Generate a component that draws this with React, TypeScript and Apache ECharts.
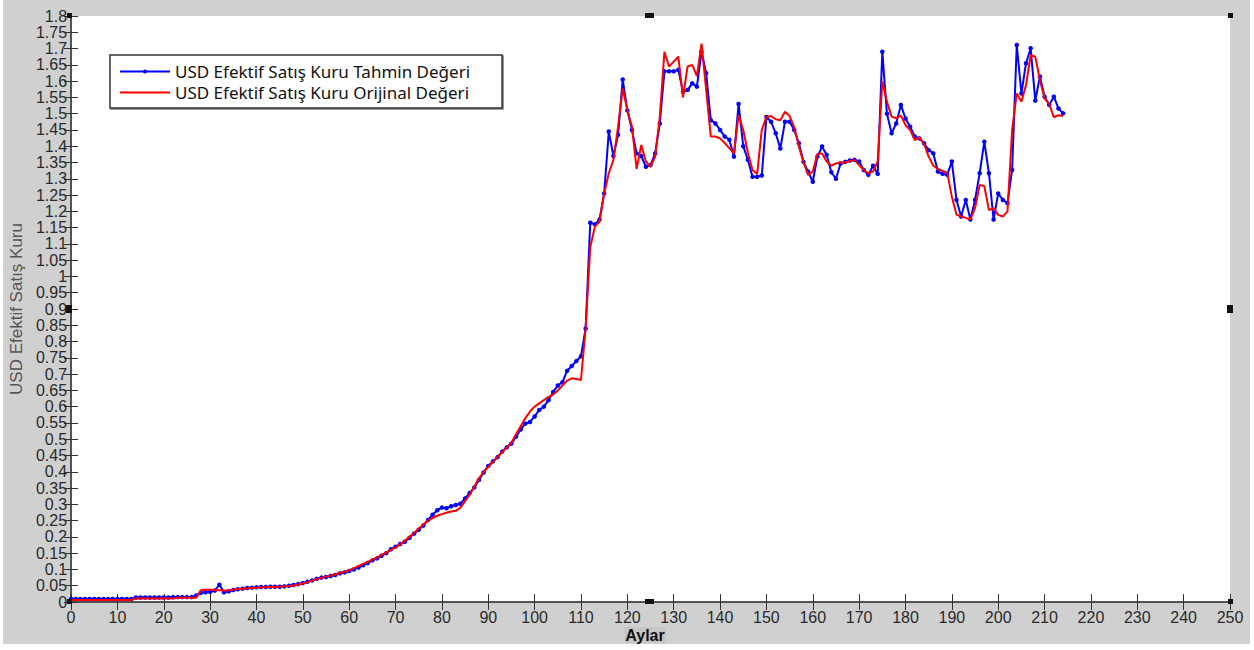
import React, { useEffect, useRef } from "react";
import * as echarts from "echarts";

// Months 0..214
const tahmin: number[] = [
  // 0-13
  0.009, 0.009, 0.009, 0.009, 0.009, 0.009, 0.009, 0.009, 0.009, 0.009, 0.009, 0.009, 0.009, 0.009,
  // 14-27
  0.014, 0.014, 0.014, 0.014, 0.014, 0.014, 0.014, 0.014, 0.015, 0.015, 0.015, 0.015, 0.015, 0.02,
  // 28-47
  0.028, 0.03, 0.031, 0.035, 0.053, 0.03, 0.033, 0.037, 0.039, 0.041, 0.043, 0.044, 0.045, 0.046, 0.046, 0.047, 0.047, 0.047, 0.048, 0.05,
  // 48-67
  0.052, 0.055, 0.058, 0.062, 0.066, 0.071, 0.075, 0.077, 0.08, 0.083, 0.088, 0.091, 0.095, 0.1, 0.106, 0.113, 0.12, 0.128, 0.134, 0.142,
  // 68-87
  0.15, 0.162, 0.17, 0.178, 0.185, 0.197, 0.21, 0.222, 0.235, 0.252, 0.268, 0.282, 0.29, 0.288, 0.294, 0.298, 0.302, 0.318, 0.335, 0.352,
  // 88-110
  0.375, 0.398, 0.418, 0.432, 0.445, 0.462, 0.475, 0.487, 0.508, 0.53, 0.548, 0.553, 0.57, 0.59, 0.6, 0.62, 0.645, 0.665, 0.675, 0.71, 0.725, 0.74, 0.755,
  // 111-130
  0.84, 1.165, 1.16, 1.175, 1.255, 1.445, 1.37, 1.435, 1.605, 1.51, 1.45, 1.378, 1.37, 1.337, 1.342, 1.378, 1.47, 1.63, 1.63, 1.63,
  // 131-150
  1.635, 1.567, 1.573, 1.593, 1.583, 1.69, 1.624, 1.48, 1.47, 1.45, 1.43, 1.42, 1.368, 1.53, 1.4, 1.358, 1.306, 1.306, 1.31, 1.49,
  // 151-170
  1.475, 1.44, 1.393, 1.475, 1.475, 1.45, 1.409, 1.352, 1.322, 1.291, 1.368, 1.399, 1.373, 1.32, 1.3, 1.347, 1.352, 1.356, 1.358, 1.353,
  // 171-190
  1.327, 1.312, 1.34, 1.315, 1.69, 1.5, 1.44, 1.47, 1.527, 1.485, 1.46, 1.43, 1.424, 1.409, 1.388, 1.378, 1.322, 1.315, 1.312, 1.353,
  // 191-214
  1.235, 1.184, 1.235, 1.175, 1.235, 1.317, 1.414, 1.317, 1.175, 1.255, 1.235, 1.225, 1.327, 1.711, 1.562, 1.655, 1.701, 1.54, 1.614, 1.552, 1.527, 1.552, 1.516, 1.501,
];

const orijinal: number[] = [
  // 0-13
  0.006, 0.006, 0.006, 0.006, 0.006, 0.006, 0.006, 0.006, 0.006, 0.006, 0.006, 0.006, 0.006, 0.006,
  // 14-27
  0.011, 0.011, 0.011, 0.011, 0.011, 0.011, 0.011, 0.011, 0.011, 0.013, 0.013, 0.013, 0.013, 0.013,
  // 28-47
  0.036, 0.038, 0.038, 0.037, 0.036, 0.035, 0.036, 0.038, 0.04, 0.041, 0.042, 0.043, 0.044, 0.045, 0.045, 0.046, 0.046, 0.047, 0.048, 0.049,
  // 48-67
  0.051, 0.054, 0.057, 0.061, 0.066, 0.07, 0.074, 0.078, 0.081, 0.085, 0.089, 0.093, 0.098, 0.104, 0.11, 0.117, 0.123, 0.13, 0.137, 0.145,
  // 68-87
  0.152, 0.16, 0.168, 0.177, 0.188, 0.2, 0.212, 0.225, 0.238, 0.25, 0.258, 0.265, 0.27, 0.274, 0.278, 0.28, 0.29, 0.31, 0.33, 0.355,
  // 88-110
  0.38, 0.4, 0.415, 0.43, 0.445, 0.46, 0.475, 0.49, 0.515, 0.54, 0.565, 0.585, 0.6, 0.61, 0.62, 0.63, 0.637, 0.65, 0.665, 0.68, 0.687, 0.685, 0.682,
  // 111-130
  0.84, 1.09, 1.153, 1.168, 1.255, 1.317, 1.358, 1.46, 1.578, 1.51, 1.46, 1.33, 1.404, 1.353, 1.337, 1.368, 1.49, 1.69, 1.645, 1.66,
  // 131-150
  1.675, 1.55, 1.645, 1.65, 1.615, 1.715, 1.573, 1.43, 1.43, 1.424, 1.41, 1.394, 1.378, 1.496, 1.45, 1.38, 1.327, 1.315, 1.45, 1.49,
  // 151-170
  1.493, 1.483, 1.48, 1.506, 1.493, 1.458, 1.399, 1.35, 1.312, 1.322, 1.376, 1.378, 1.353, 1.34, 1.347, 1.35, 1.35, 1.355, 1.358, 1.342,
  // 171-190
  1.327, 1.317, 1.322, 1.353, 1.6, 1.537, 1.491, 1.486, 1.494, 1.465, 1.45, 1.419, 1.427, 1.407, 1.368, 1.34, 1.33, 1.324, 1.319, 1.245,
  // 191-214
  1.19, 1.184, 1.18, 1.175, 1.21, 1.281, 1.278, 1.204, 1.21, 1.189, 1.184, 1.2, 1.45, 1.562, 1.537, 1.588, 1.68, 1.675, 1.603, 1.547, 1.53, 1.489, 1.495, 1.493,
];

const seriesNames = [
  "USD Efektif Satış Kuru Tahmin Değeri",
  "USD Efektif Satış Kuru Orijinal Değeri",
];
const xAxisName = "Aylar";
const yAxisName = "USD Efektif Satış Kuru";

const LABEL_FONT = "'Liberation Sans Narrow', 'Liberation Sans', Arial, sans-serif";

export default function App() {
  const ref = useRef<HTMLDivElement>(null);

  useEffect(() => {
    if (!ref.current) return;
    const chart = echarts.init(ref.current, undefined, { renderer: "svg" });

    const tickStyle = { color: "#333", width: 1 };
    const lineStyle = { color: "#4a4a4a", width: 1.5 };
    const fmtY = (v: number) => String(parseFloat(v.toFixed(2)));

    const handle = (x: number, y: number, w: number, h: number) => ({
      type: "rect",
      shape: { x, y, width: w, height: h },
      style: { fill: "#111" },
      z: 100,
    });

    chart.setOption({
      animation: false,
      backgroundColor: "#d0d0d0",
      grid: {
        left: 70,
        right: 24,
        top: 16,
        bottom: 48,
        show: true,
        backgroundColor: "#ffffff",
        borderWidth: 0,
      },
      legend: {
        orient: "vertical",
        left: 110,
        top: 55,
        data: [
          { name: seriesNames[0] },
          { name: seriesNames[1], itemStyle: { opacity: 0 } },
        ],
        backgroundColor: "#ffffff",
        borderColor: "#333",
        borderWidth: 1.5,
        padding: [8, 32, 7, 9],
        itemWidth: 50,
        itemHeight: 5,
        itemGap: 4,
        shadowColor: "rgba(0,0,0,0.5)",
        shadowOffsetX: 1,
        shadowOffsetY: 1,
        shadowBlur: 1,
        textStyle: { fontFamily: "'Noto Sans', sans-serif", fontSize: 17, color: "#111" },
      },
      xAxis: [
        {
          type: "value",
          min: 0,
          max: 250,
          interval: 10,
          position: "bottom",
          axisLine: { show: true, lineStyle },
          axisTick: { show: true, inside: true, length: 8, lineStyle: tickStyle },
          axisLabel: { fontFamily: LABEL_FONT, fontSize: 16, color: "#2a2a2a", margin: 7 },
          splitLine: { show: false },
        },
        {
          type: "value",
          min: 0,
          max: 250,
          interval: 10,
          position: "top",
          axisLine: { show: true, lineStyle },
          axisTick: { show: true, inside: true, length: 8, lineStyle: tickStyle },
          axisLabel: { show: false },
          splitLine: { show: false },
        },
      ],
      yAxis: [
        {
          type: "value",
          min: 0,
          max: 1.8,
          interval: 0.05,
          position: "left",
          name: yAxisName,
          nameLocation: "middle",
          nameRotate: 90,
          nameGap: 44,
          nameTextStyle: {
            fontFamily: "Arial, 'Liberation Sans', sans-serif",
            fontSize: 17,
            color: "#555",
          },
          axisLine: { show: true, lineStyle },
          axisTick: { show: true, inside: true, length: 7, lineStyle: tickStyle },
          axisLabel: {
            fontFamily: LABEL_FONT,
            fontSize: 16,
            color: "#2a2a2a",
            margin: 4,
            formatter: fmtY,
          },
          splitLine: { show: false },
        },
        {
          type: "value",
          min: 0,
          max: 1.8,
          interval: 0.05,
          position: "right",
          axisLine: { show: true, lineStyle },
          axisTick: { show: true, inside: true, length: 7, lineStyle: tickStyle },
          axisLabel: { show: false },
          splitLine: { show: false },
        },
      ],
      series: [
        {
          name: seriesNames[0],
          type: "line",
          xAxisIndex: 0,
          yAxisIndex: 0,
          data: tahmin.map((v, i) => [i, v]),
          symbol: "circle",
          symbolSize: 4.5,
          showSymbol: true,
          lineStyle: { color: "#0000ff", width: 2 },
          itemStyle: { color: "#0000ff" },
          z: 2,
        },
        {
          name: seriesNames[1],
          type: "line",
          xAxisIndex: 0,
          yAxisIndex: 0,
          data: orijinal.map((v, i) => [i, v]),
          symbol: "none",
          showSymbol: false,
          lineStyle: { color: "#ff0000", width: 2 },
          itemStyle: { color: "#ff0000" },
          z: 3,
        },
      ],
      graphic: [
        { type: "rect", shape: { x: 0, y: 0, width: 3, height: 650 }, style: { fill: "#ffffff" }, z: 100 },
        { type: "rect", shape: { x: 1250, y: 0, width: 4, height: 650 }, style: { fill: "#ffffff" }, z: 100 },
        { type: "rect", shape: { x: 0, y: 644, width: 1254, height: 6 }, style: { fill: "#ffffff" }, z: 100 },
        {
          type: "text",
          x: 645,
          y: 635,
          z: 101,
          style: {
            text: xAxisName,
            align: "center",
            verticalAlign: "middle",
            fontFamily: "Arial, 'Liberation Sans', sans-serif",
            fontSize: 16,
            fontWeight: "bold",
            fill: "#111",
            backgroundColor: "#c6c6c6",
            padding: [0, 1, 0, 1],
          },
        },
        handle(645, 13, 9, 5),
        handle(645, 599, 9, 5),
        handle(66, 305, 6, 8),
        handle(1227, 305, 6, 8),
        handle(67, 13, 5, 5),
        handle(1228, 13, 5, 5),
        handle(1228, 599, 5, 5),
        handle(67, 599, 5, 5),
      ],
    });

    return () => chart.dispose();
  }, []);

  return (
    <div
      ref={ref}
      style={{ position: "fixed", left: 0, top: 0, width: 1254, height: 650 }}
    />
  );
}
